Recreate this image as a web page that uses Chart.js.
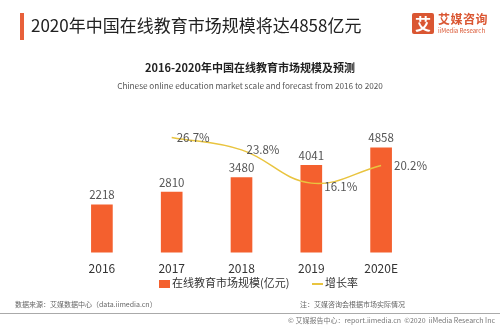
<!DOCTYPE html>
<html>
<head>
<meta charset="utf-8">
<script src="https://cdn.jsdelivr.net/npm/chart.js@4.4.0/dist/chart.umd.min.js"></script>
<style>
  body { margin: 0; background: #fff; font-family: "Noto Sans CJK SC", "Noto Sans", sans-serif; }
  #wrap { position: relative; width: 500px; height: 325px; overflow: hidden; }
  #mycanvas { position: absolute; left: 0; top: 0; }
  .abs { position: absolute; white-space: nowrap; }
  #bar { left: 20px; top: 13px; width: 4px; height: 27px; background: #E8603A; }
  #title { left: 31px; top: 12px; font-size: 17px; color: #222; line-height: 26px; }
  #logoBox { left: 412px; top: 13px; width: 22px; height: 21px; background: #DA5632; border-radius: 2px;
             color: #fff; font-size: 16px; font-weight: bold; text-align: center; line-height: 21px; }
  #logoTxt { left: 438px; top: 12px; font-size: 12px; font-weight: bold; color: #DA5632; line-height: 14px; letter-spacing: 0.5px; }
  #logoSub { left: 438px; top: 27px; font-size: 6px; color: #DA5632; line-height: 8px; }
  #sub1 { left: 0; width: 500px; top: 59px; text-align: center; font-size: 11px; font-weight: bold; color: #222; line-height: 16px; }
  #sub2 { left: 0; width: 500px; top: 79px; text-align: center; font-size: 8.2px; color: #555; line-height: 12px; }
  #legend { left: 159px; top: 274px; font-size: 11px; color: #333; line-height: 16px; }
  #legend span.sw { display: inline-block; vertical-align: middle; }
  #src { left: 15px; top: 299px; font-size: 7px; color: #666; line-height: 10px; }
  #note { left: 300px; top: 299px; font-size: 7px; color: #666; line-height: 10px; }
  #rule { left: 0; top: 313px; width: 500px; height: 1px; background: #aaa; }
  #copy { right: 5px; top: 315px; font-size: 7px; color: #777; line-height: 10px; }
</style>
</head>
<body>
<div id="wrap">
  <canvas id="mycanvas" width="500" height="325"></canvas>
  <div class="abs" id="bar"></div>
  <div class="abs" id="title">2020年中国在线教育市场规模将达4858亿元</div>
  <div class="abs" id="logoBox">艾</div>
  <div class="abs" id="logoTxt">艾媒咨询</div>
  <div class="abs" id="logoSub">iiMedia Research</div>
  <div class="abs" id="sub1">2016-2020年中国在线教育市场规模及预测</div>
  <div class="abs" id="sub2">Chinese online education market scale and forecast from 2016 to 2020</div>
  <div class="abs" id="legend">
    <span class="sw" style="width:11px;height:8px;background:#F4602E;margin-right:2px;"></span>在线教育市场规模(亿元)
    <span class="sw" style="width:11px;height:2px;background:#E9C43F;margin-left:20px;margin-right:2px;"></span>增长率
  </div>
  <div class="abs" id="src">数据来源：艾媒数据中心（data.iimedia.cn）</div>
  <div class="abs" id="note">注：艾媒咨询会根据市场实际情况</div>
  <div class="abs" id="rule"></div>
  <div class="abs" id="copy">© 艾媒报告中心：report.iimedia.cn &nbsp;©2020 &nbsp;iiMedia Research Inc</div>
</div>
<script>
// data
var years = ['2016', '2017', '2018', '2019', '2020E'];
var marketSize = [2218, 2810, 3480, 4041, 4858];
var growthRate = [null, 26.7, 23.8, 16.1, 20.2];

// value labels over bars and beside line points
var labelPlugin = {
    id: 'labels',
    afterDatasetsDraw: function(chart) {
        var ctx = chart.ctx;
        ctx.save();
        ctx.font = '11.5px "Noto Sans CJK SC", "Noto Sans", sans-serif';
        ctx.fillStyle = '#555';

        var barMeta = chart.getDatasetMeta(0);
        ctx.textAlign = 'center';
        ctx.textBaseline = 'bottom';
        barMeta.data.forEach(function(bar, i) {
            ctx.fillText(marketSize[i], bar.x, bar.y - 4);
        });

        var lineMeta = chart.getDatasetMeta(1);
        ctx.textAlign = 'left';
        ctx.textBaseline = 'middle';
        lineMeta.data.forEach(function(pt, i) {
            if (growthRate[i] === null) return;
            var dx = i >= 3 ? 13 : 5;
            var dy = i === 3 ? 3 : 0;
            ctx.fillText(growthRate[i].toFixed(1) + '%', pt.x + dx, pt.y + dy);
        });
        ctx.restore();
    }
};

var ctx1 = document.getElementById('mycanvas');
var chart1 = new Chart(ctx1, {
    type: 'bar',
    data: {
        labels: years,
        datasets: [
            {
                label: '在线教育市场规模(亿元)',
                data: marketSize,
                backgroundColor: '#F4602E',
                barThickness: 21,
                yAxisID: 'y',
                order: 1
            },
            {
                type: 'line',
                label: '增长率',
                data: growthRate,
                borderColor: '#E9C43F',
                borderWidth: 1.5,
                pointRadius: 0,
                tension: 0.4,
                fill: false,
                yAxisID: 'y1',
                order: 0
            }
        ]
    },
    options: {
        responsive: false,
        animation: false,
        layout: { padding: { left: 67, right: 84, top: 80, bottom: 48 } },
        plugins: {
            legend: { display: false },
            tooltip: { enabled: false }
        },
        scales: {
            x: {
                grid: { display: false },
                border: { display: false },
                ticks: {
                    color: '#333',
                    padding: 1,
                    font: { size: 12, family: '"Noto Sans CJK SC", "Noto Sans", sans-serif' }
                }
            },
            y: { display: false, min: 0, max: 8000 },
            y1: { display: false, min: 0, max: 40, position: 'right' }
        }
    },
    plugins: [labelPlugin]
});
</script>
</body>
</html>
